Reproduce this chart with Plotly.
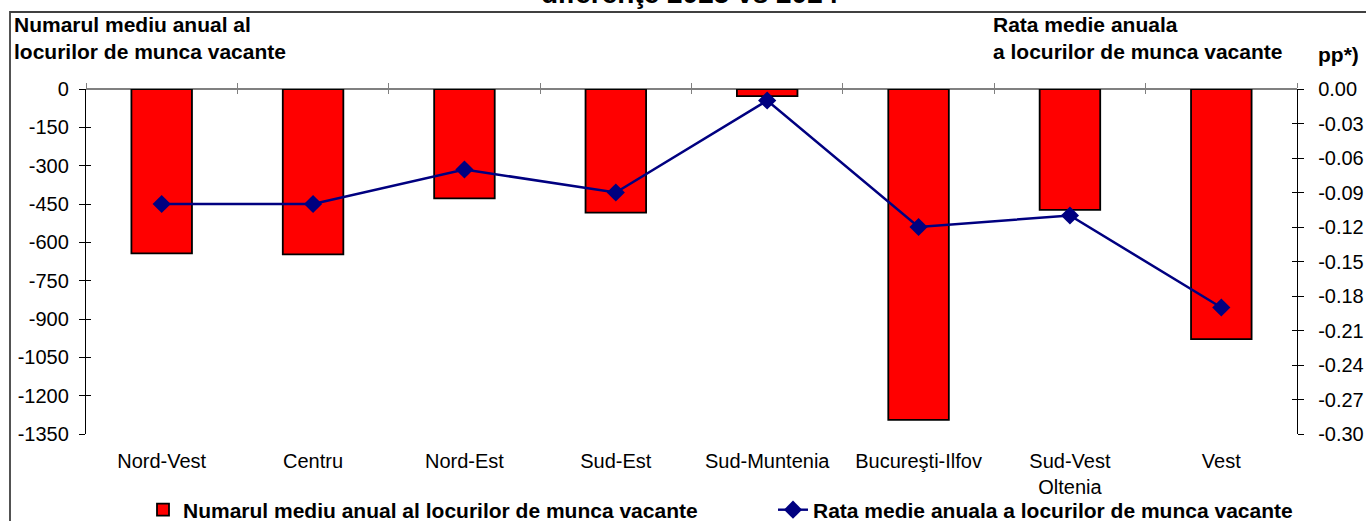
import plotly.graph_objects as go

categories = ["Nord-Vest", "Centru", "Nord-Est", "Sud-Est", "Sud-Muntenia",
              "Bucureşti-Ilfov", "Sud-Vest<br>Oltenia", "Vest"]
vacancies_diff = [-643, -647, -428, -484, -28, -1295, -473, -979]
rate_diff = [-0.10, -0.10, -0.07, -0.09, -0.01, -0.12, -0.11, -0.19]

left_ticks = [0, -150, -300, -450, -600, -750, -900, -1050, -1200, -1350]
right_ticks = [0.00, -0.03, -0.06, -0.09, -0.12, -0.15, -0.18, -0.21, -0.24, -0.27, -0.30]
right_ticktext = ["%.2f" % v for v in right_ticks]

bar_name = "Numarul mediu anual al locurilor de munca vacante"
line_name = "Rata medie anuala a locurilor de munca vacante"
title_text = "diferenţe 2025 vs 2024"
left_title = "Numarul mediu anual al<br>locurilor de munca vacante"
right_title = "Rata medie anuala<br>a locurilor de munca vacante"
unit_text = "pp*)"

W, H = 1366, 521
L, R, T, B = 86, 69, 89, 87
pw, ph = W - L - R, H - T - B


def px_x(x):
    return (x - L) / pw


def px_y(y):
    return (H - B - y) / ph


FONT = "Arial, Liberation Sans, sans-serif"
xpos = list(range(len(categories)))
bounds = [i - 0.5 for i in range(len(categories) + 1)]

fig = go.Figure()
fig.add_trace(go.Bar(
    x=xpos, y=vacancies_diff, name=bar_name,
    marker=dict(color="#FF0000", line=dict(color="#000000", width=1.8)),
    yaxis="y", xaxis="x", legend="legend",
))
fig.add_trace(go.Scatter(
    x=xpos, y=rate_diff, name=line_name, mode="lines+markers",
    line=dict(color="#000080", width=2.5),
    marker=dict(symbol="diamond", size=14, color="#000080"),
    yaxis="y2", xaxis="x", legend="legend2",
))
# helper empty traces so overlay axes (crossing tick marks) get drawn
for xa, ya in [("x2", "y"), ("x3", "y"), ("x", "y3"), ("x", "y4")]:
    fig.add_trace(go.Scatter(x=[], y=[], xaxis=xa, yaxis=ya, showlegend=False,
                             hoverinfo="skip"))

axis_font = dict(family=FONT, size=20, color="#000000")
legend_font = dict(family=FONT, size=21, color="#000000", weight="bold")
fig.update_layout(
    width=W, height=H,
    margin=dict(l=L, r=R, t=T, b=B, autoexpand=False),
    paper_bgcolor="white", plot_bgcolor="white",
    font=dict(family=FONT, color="#000000"),
    bargap=0.6,
    showlegend=True,
    legend=dict(orientation="h", xref="container", yref="container",
                x=143 / W, y=1 - 510 / H, xanchor="left", yanchor="middle",
                font=legend_font, bgcolor="rgba(0,0,0,0)"),
    legend2=dict(orientation="h", xref="container", yref="container",
                 x=773 / W, y=1 - 510 / H, xanchor="left", yanchor="middle",
                 font=legend_font, bgcolor="rgba(0,0,0,0)"),
    xaxis=dict(range=[-0.5, len(categories) - 0.5], tickvals=xpos, ticktext=categories,
               showline=False, showgrid=False, zeroline=False, ticks="",
               tickfont=axis_font, ticklabelstandoff=13, automargin=False),
    xaxis2=dict(overlaying="x", anchor="y", side="top", range=[-0.5, len(categories) - 0.5],
                tickvals=bounds, showticklabels=False, ticks="outside", ticklen=5,
                tickcolor="#808080", tickwidth=1.3, showline=False, showgrid=False,
                zeroline=False, automargin=False),
    xaxis3=dict(overlaying="x", anchor="y", side="top", range=[-0.5, len(categories) - 0.5],
                tickvals=bounds, showticklabels=False, ticks="inside", ticklen=5,
                tickcolor="#808080", tickwidth=1.3, showline=False, showgrid=False,
                zeroline=False, automargin=False),
    yaxis=dict(range=[left_ticks[-1], 0], tickvals=left_ticks,
               ticktext=[str(v) for v in left_ticks], showgrid=False,
               zeroline=True, zerolinecolor="#808080", zerolinewidth=1.5,
               showline=True, linecolor="#000000", linewidth=1.3,
               ticks="outside", ticklen=6, tickcolor="#000000", tickwidth=1.3,
               tickfont=axis_font, ticklabelstandoff=6, automargin=False),
    yaxis3=dict(overlaying="y", anchor="x", side="left", range=[left_ticks[-1], 0],
                tickvals=left_ticks, showticklabels=False, ticks="inside", ticklen=5,
                tickcolor="#000000", tickwidth=1.3, showline=False, showgrid=False,
                zeroline=False, automargin=False),
    yaxis2=dict(overlaying="y", anchor="x", side="right", range=[right_ticks[-1], 0],
                tickvals=right_ticks, ticktext=right_ticktext, showgrid=False,
                zeroline=False, showline=True, linecolor="#000000", linewidth=1.3,
                ticks="outside", ticklen=6, tickcolor="#000000", tickwidth=1.3,
                tickfont=axis_font, ticklabelstandoff=10, automargin=False),
    yaxis4=dict(overlaying="y", anchor="x", side="right", range=[right_ticks[-1], 0],
                tickvals=right_ticks, showticklabels=False, ticks="inside", ticklen=5,
                tickcolor="#000000", tickwidth=1.3, showline=False, showgrid=False,
                zeroline=False, automargin=False),
)

bold = dict(family=FONT, size=21, color="#000000", weight="bold")
fig.add_annotation(text=title_text, xref="paper", yref="paper", x=px_x(690), y=px_y(-7),
                   xanchor="center", yanchor="middle", showarrow=False,
                   font=dict(family=FONT, size=28, color="#000000", weight="bold"))
fig.add_annotation(text=left_title, xref="paper", yref="paper", x=px_x(12), y=px_y(11),
                   xanchor="left", yanchor="top", align="left", showarrow=False, font=bold)
fig.add_annotation(text=right_title, xref="paper", yref="paper", x=px_x(991), y=px_y(11),
                   xanchor="left", yanchor="top", align="left", showarrow=False, font=bold)
fig.add_annotation(text=unit_text, xref="paper", yref="paper", x=px_x(1316), y=px_y(54),
                   xanchor="left", yanchor="middle", showarrow=False, font=bold)

# outer chart border (extends beyond the right and bottom edges)
fig.add_shape(type="rect", xref="paper", yref="paper", x0=px_x(10), y0=px_y(540),
              x1=px_x(1380), y1=px_y(12), line=dict(color="#404040", width=1.8),
              fillcolor="rgba(0,0,0,0)", layer="below")

fig.write_html("out.html", config={"displayModeBar": False},
               post_script="document.body.style.margin='0';document.body.style.overflow='hidden';")
